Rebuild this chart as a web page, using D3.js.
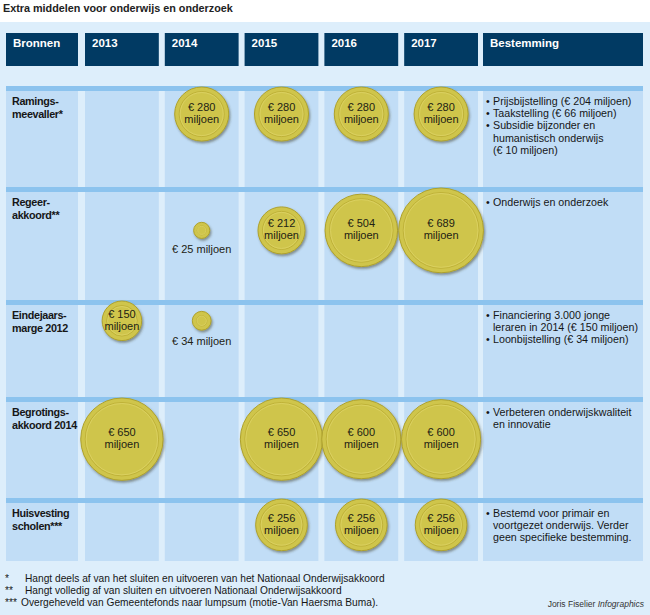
<!DOCTYPE html>
<html><head><meta charset="utf-8">
<script src="https://cdn.jsdelivr.net/npm/d3@7"></script>
<style>body{margin:0;background:#fff}svg{display:block;font-family:"Liberation Sans",Arial,sans-serif}</style>
</head><body><svg id="c" width="650" height="615"></svg>
<script>
// ---- data ----
const title = "Extra middelen voor onderwijs en onderzoek";
const years = ["2013","2014","2015","2016","2017"];
const headerLeft = "Bronnen";
const headerRight = "Bestemming";
const sources = [["Ramings-","meevaller*"],["Regeer-","akkoord**"],["Eindejaars-","marge 2012"],["Begrotings-","akkoord 2014"],["Huisvesting","scholen***"]];
const amounts = [
  [null,280,280,280,280],
  [null,25,212,504,689],
  [150,34,null,null,null],
  [650,null,650,600,600],
  [null,null,256,256,256]
];
const destinations = [
  [["Prijsbijstelling (€ 204 miljoen)"],["Taakstelling (€ 66 miljoen)"],["Subsidie bijzonder en","humanistisch onderwijs","(€ 10 miljoen)"]],
  [["Onderwijs en onderzoek"]],
  [["Financiering 3.000 jonge","leraren in 2014 (€ 150 miljoen)"],["Loonbijstelling (€ 34 miljoen)"]],
  [["Verbeteren onderwijskwaliteit","en innovatie"]],
  [["Bestemd voor primair en","voortgezet onderwijs. Verder","geen specifieke bestemming."]]
];
const footnotes = [["*","Hangt deels af van het sluiten en uitvoeren van het Nationaal Onderwijsakkoord"],["**","Hangt volledig af van sluiten en uitvoeren Nationaal Onderwijsakkoord"],["***","Overgeheveld van Gemeentefonds naar lumpsum (motie-Van Haersma Buma)."]];
const creditName = "Joris Fiselier ";
const creditTag = "Infographics";

// ---- layout ----
const svg = d3.select("#c");
const C = {panel:"#ddeefb", cell:"#c1ddf6", stripe:"#8cc3ee", head:"#013a63", coin:"#cfc54b", coinEdge:"#aea12c", text:"#161616"};
const rowTops = [86,187,300,397,498], rowEnd = 561, stripeH = 5;
const leftCol = [6,78], rightCol = [483,643];
const x = d3.scaleBand().domain(years).range([85,478]).paddingInner(0.075).paddingOuter(0);
const r = d3.scaleSqrt().domain([0,689]).range([0,42.4]);

const defs = svg.append("defs");
const f = defs.append("filter").attr("id","sh").attr("x","-30%").attr("y","-30%").attr("width","160%").attr("height","160%");
f.append("feDropShadow").attr("dx",1.2).attr("dy",1.8).attr("stdDeviation",1.3).attr("flood-color","#3e3e28").attr("flood-opacity",0.5);

svg.append("rect").attr("x",0).attr("y",22).attr("width",650).attr("height",593).attr("fill",C.panel);
svg.append("text").attr("x",3).attr("y",12).attr("font-size",10.8).attr("font-weight","bold").attr("fill","#222").text(title);

// header
const cols = [{l:leftCol[0],w:leftCol[1]-leftCol[0],t:headerLeft}]
  .concat(years.map(y=>({l:x(y),w:x.bandwidth(),t:y})))
  .concat([{l:rightCol[0],w:rightCol[1]-rightCol[0],t:headerRight}]);
svg.selectAll("rect.h").data(cols).join("rect").attr("class","h")
  .attr("x",d=>d.l).attr("y",33).attr("width",d=>d.w).attr("height",33).attr("fill",C.head);
svg.selectAll("text.h").data(cols).join("text").attr("class","h")
  .attr("x",d=>d.l+7).attr("y",47).attr("fill","#fff").attr("font-weight","bold").attr("font-size",11.5).text(d=>d.t);

// rows
sources.forEach((src,i)=>{
  const top = rowTops[i], bot = i<4 ? rowTops[i+1] : rowEnd;
  const g = svg.append("g");
  cols.forEach(c=>g.append("rect").attr("x",c.l).attr("y",top).attr("width",c.w).attr("height",bot-top).attr("fill",C.cell));
  g.append("rect").attr("x",leftCol[0]).attr("y",top).attr("width",rightCol[1]-leftCol[0]).attr("height",stripeH).attr("fill",C.stripe);
  // source label
  g.selectAll("text.s").data(src).join("text").attr("x",12).attr("y",(d,k)=>top+19+k*13)
    .attr("font-weight","bold").attr("font-size",10.8).attr("letter-spacing",-0.35).attr("fill",C.text).text(d=>d);
  // destinations
  let line = 0;
  destinations[i].forEach(item=>{
    item.forEach((t,k)=>{
      const yy = top+19+line*12.2;
      if(k===0) g.append("text").attr("x",486).attr("y",yy).attr("font-size",10.7).attr("fill",C.text).text("•");
      g.append("text").attr("x",493).attr("y",yy).attr("font-size",10.7).attr("fill",C.text).text(t);
      line++;
    });
  });
  // coins
  const vals = amounts[i];
  const maxR = d3.max(vals.filter(v=>v!=null).map(r));
  const cy = top + maxR + 1;
  const data = years.map((y,k)=>({y,v:vals[k]})).filter(d=>d.v!=null);
  const cg = g.selectAll("g.coin").data(data).join("g").attr("class","coin")
    .attr("transform",d=>`translate(${x(d.y)+x.bandwidth()/2},${cy})`);
  cg.append("circle").attr("r",d=>r(d.v)).attr("fill",C.coin).attr("stroke",C.coinEdge).attr("stroke-width",1).attr("filter","url(#sh)");
  cg.append("circle").attr("r",d=>Math.max(r(d.v)-4.5,r(d.v)*0.55)).attr("fill","none").attr("stroke","#bfb238").attr("stroke-width",1);
  cg.append("circle").attr("r",d=>Math.max(r(d.v)-5.5,r(d.v)*0.5)).attr("fill","none").attr("stroke","#ddd366").attr("stroke-width",0.8);
  cg.each(function(d){
    const s = d3.select(this), rr = r(d.v);
    if(rr>15){
      s.append("text").attr("y",-3).attr("text-anchor","middle").attr("font-size",11).attr("fill","#222214").text("€ "+d.v);
      s.append("text").attr("y",9).attr("text-anchor","middle").attr("font-size",11).attr("fill","#222214").text("miljoen");
    } else {
      s.append("text").attr("y",rr+15).attr("text-anchor","middle").attr("font-size",11).attr("fill","#222214").text("€ "+d.v+" miljoen");
    }
  });
});

// footnotes
footnotes.forEach((fn,i)=>{
  const yy = 582+i*12;
  svg.append("text").attr("x",5).attr("y",yy).attr("font-size",10.2).attr("fill",C.text).text(fn[0]);
  svg.append("text").attr("x",fn[0].length>2?21:25).attr("y",yy).attr("font-size",10.2).attr("fill",C.text).text(fn[1]);
});
const cr = svg.append("text").attr("x",644).attr("y",607).attr("text-anchor","end").attr("font-size",8.5).attr("fill","#333");
cr.append("tspan").text(creditName);
cr.append("tspan").attr("font-style","italic").text(creditTag);
</script></body></html>
